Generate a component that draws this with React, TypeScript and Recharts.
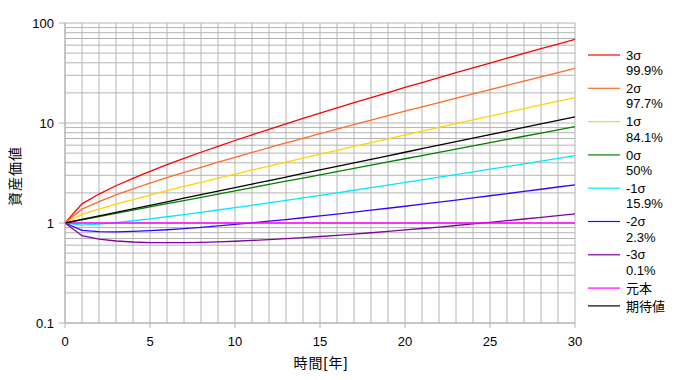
import React from 'react';
import { LineChart, Line, XAxis, YAxis, CartesianGrid, Legend } from 'recharts';

// ---- data ----
const years = [0, 1, 2, 3, 4, 5, 6, 7, 8, 9, 10, 11, 12, 13, 14, 15, 16, 17, 18, 19, 20, 21, 22, 23, 24, 25, 26, 27, 28, 29, 30];

const sigmaP3 = [1, 1.554, 1.948, 2.357, 2.8, 3.288, 3.828, 4.43, 5.1, 5.849, 6.684, 7.617, 8.657, 9.819, 11.11, 12.56, 14.17, 15.96, 17.95, 20.18, 22.65, 25.4, 28.45, 31.84, 35.61, 39.79, 44.43, 49.58, 55.28, 61.61, 68.61];
const sigmaP2 = [1, 1.375, 1.639, 1.907, 2.192, 2.501, 2.837, 3.205, 3.609, 4.053, 4.541, 5.078, 5.668, 6.319, 7.034, 7.821, 8.687, 9.64, 10.69, 11.84, 13.11, 14.5, 16.03, 17.71, 19.56, 21.59, 23.82, 26.26, 28.95, 31.89, 35.12];
const sigmaP1 = [1, 1.217, 1.378, 1.543, 1.717, 1.903, 2.103, 2.32, 2.554, 2.808, 3.085, 3.385, 3.711, 4.066, 4.451, 4.871, 5.327, 5.823, 6.362, 6.949, 7.587, 8.281, 9.035, 9.855, 10.75, 11.72, 12.77, 13.91, 15.16, 16.51, 17.98];
const sigma0 = [1, 1.077, 1.159, 1.249, 1.344, 1.448, 1.559, 1.678, 1.807, 1.946, 2.096, 2.256, 2.43, 2.616, 2.817, 3.034, 3.266, 3.517, 3.787, 4.078, 4.391, 4.729, 5.092, 5.483, 5.904, 6.357, 6.845, 7.371, 7.937, 8.546, 9.202];
const sigmaM1 = [1, 0.953, 0.975, 1.01, 1.053, 1.101, 1.155, 1.215, 1.279, 1.349, 1.424, 1.504, 1.591, 1.684, 1.783, 1.889, 2.003, 2.125, 2.255, 2.393, 2.542, 2.7, 2.869, 3.05, 3.243, 3.449, 3.67, 3.905, 4.156, 4.424, 4.71];
const sigmaM2 = [1, 0.843, 0.821, 0.817, 0.824, 0.838, 0.856, 0.879, 0.905, 0.935, 0.967, 1.003, 1.042, 1.083, 1.128, 1.177, 1.228, 1.283, 1.342, 1.405, 1.471, 1.542, 1.617, 1.697, 1.782, 1.872, 1.967, 2.069, 2.176, 2.29, 2.411];
const sigmaM3 = [1, 0.746, 0.69, 0.661, 0.646, 0.637, 0.635, 0.636, 0.64, 0.648, 0.657, 0.669, 0.682, 0.697, 0.714, 0.733, 0.753, 0.775, 0.799, 0.824, 0.852, 0.881, 0.911, 0.944, 0.979, 1.016, 1.055, 1.096, 1.139, 1.186, 1.234];
const principal = [1, 1, 1, 1, 1, 1, 1, 1, 1, 1, 1, 1, 1, 1, 1, 1, 1, 1, 1, 1, 1, 1, 1, 1, 1, 1, 1, 1, 1, 1, 1];
const expected = [1, 1.085, 1.177, 1.277, 1.385, 1.503, 1.63, 1.769, 1.919, 2.082, 2.258, 2.45, 2.658, 2.883, 3.128, 3.393, 3.681, 3.994, 4.333, 4.7, 5.099, 5.532, 6.003, 6.511, 7.063, 7.663, 8.313, 9.019, 9.784, 10.61, 11.52];

const seriesKeys = ['p3', 'p2', 'p1', 'z0', 'm1', 'm2', 'm3', 'principal', 'expected'];
const seriesValues = [sigmaP3, sigmaP2, sigmaP1, sigma0, sigmaM1, sigmaM2, sigmaM3, principal, expected];
const seriesColors = ['#ff0000', '#ff6a2a', '#ffd400', '#008000', '#00e8ff', '#3a00ff', '#8000a0', '#ff00ff', '#000000'];
const legendMain = ['3σ', '2σ', '1σ', '0σ', '-1σ', '-2σ', '-3σ', '元本', '期待値'];
const legendSub = ['99.9%', '97.7%', '84.1%', '50%', '15.9%', '2.3%', '0.1%', '', ''];

const yGridTicks = [0.1, 0.2, 0.3, 0.4, 0.5, 0.6, 0.7, 0.8, 0.9, 1, 2, 3, 4, 5, 6, 7, 8, 9, 10, 20, 30, 40, 50, 60, 70, 80, 90, 100];
const yLabelTicks = [0.1, 1, 10, 100];
const xLabelTicks = [0, 5, 10, 15, 20, 25, 30];

const xTitle = '時間[年]';
const yTitle = '資産価値';

const data = years.map((t, i) => {
  const row: Record<string, number> = { t };
  seriesKeys.forEach((k, j) => {
    row[k] = seriesValues[j][i];
  });
  return row;
});

const FONT = '"Liberation Sans", Arial, "Noto Sans CJK JP", sans-serif';
const GRID = '#b4b4b4';

const YTick = (props: any) => {
  const { x, y, payload } = props;
  const v = payload.value;
  const isLabel = yLabelTicks.some((l) => Math.abs(l - v) < 1e-9);
  if (!isLabel) return <g />;
  return (
    <g>
      <line x1={x + 5} x2={x + 11} y1={y} y2={y} stroke={GRID} strokeWidth={1} />
      <text x={x} y={y} dy={4.6} textAnchor="end" fontSize={13} fontFamily={FONT} fill="#000">
        {String(v)}
      </text>
    </g>
  );
};

const XTick = (props: any) => {
  const { x, y, payload } = props;
  const v = payload.value;
  if (!xLabelTicks.includes(v)) return <g />;
  return (
    <g>
      <line x1={x} x2={x} y1={y - 11} y2={y - 6} stroke={GRID} strokeWidth={1} />
      <text x={x} y={y + 12} textAnchor="middle" fontSize={13} fontFamily={FONT} fill="#000">
        {String(v)}
      </text>
    </g>
  );
};

const LegendContent = () => {
  const rows: { y: number; i: number }[] = [];
  let y = 15;
  legendMain.forEach((_, i) => {
    rows.push({ y, i });
    y += (legendSub[i] ? 2 : 1) * 15.5 + 2.3;
  });
  return (
    <svg width={100} height={290} style={{ display: 'block' }}>
      {rows.map(({ y: ry, i }) => (
        <g key={i}>
          <line x1={8} x2={40} y1={ry} y2={ry} stroke={seriesColors[i]} strokeWidth={1.2} />
          <text x={46} y={ry} dy={4.6} fontSize={13} fontFamily={FONT} fill="#000">
            {legendMain[i]}
          </text>
          {legendSub[i] ? (
            <text x={46} y={ry + 15.5} dy={4.6} fontSize={13} fontFamily={FONT} fill="#000">
              {legendSub[i]}
            </text>
          ) : null}
        </g>
      ))}
    </svg>
  );
};

export default function App() {
  return (
    <div style={{ position: 'absolute', left: 0, top: 0, width: 680, height: 380, background: '#fff' }}>
      <LineChart width={680} height={380} data={data} margin={{ top: 23, right: 105, left: 0, bottom: 0 }}>
        <CartesianGrid stroke={GRID} strokeWidth={1} />
        <XAxis
          dataKey="t"
          type="number"
          domain={[0, 30]}
          ticks={years}
          interval={0}
          height={57}
          tickSize={5}
          tickMargin={6}
          tickLine={false}
          axisLine={{ stroke: GRID }}
          tick={<XTick />}
          label={{
            content: (p: any) => {
              const vb = p.viewBox || { x: 65, y: 323, width: 510 };
              return (
                <text x={vb.x + vb.width / 2 + 1} y={vb.y + 45} textAnchor="middle" fontSize={14} letterSpacing={1} fontFamily={FONT} fill="#000">
                  {xTitle}
                </text>
              );
            },
          }}
        />
        <YAxis
          type="number"
          scale="log"
          domain={[0.1, 100]}
          allowDataOverflow
          ticks={yGridTicks}
          interval={0}
          width={65}
          tickSize={6}
          tickMargin={5}
          tickLine={false}
          axisLine={{ stroke: GRID }}
          tick={<YTick />}
          label={{
            content: (p: any) => {
              const vb = p.viewBox || { x: 0, y: 23, height: 300 };
              const cx = 15;
              const cy = vb.y + vb.height / 2 + 3;
              return (
                <text
                  x={cx}
                  y={cy}
                  textAnchor="middle"
                  dominantBaseline="central"
                  fontSize={14}
                  letterSpacing={1}
                  fontFamily={FONT}
                  fill="#000"
                  transform={`rotate(-90, ${cx}, ${cy})`}
                >
                  {yTitle}
                </text>
              );
            },
          }}
        />
        <Legend
          layout="vertical"
          align="center"
          verticalAlign="middle"
          content={<LegendContent />}
          wrapperStyle={{ left: 580, top: 40, width: 100, height: 290 }}
        />
        {seriesKeys.map((k, i) => (
          <Line
            key={k}
            type="linear"
            dataKey={k}
            name={legendMain[i]}
            stroke={seriesColors[i]}
            strokeWidth={1.3}
            dot={false}
            activeDot={false}
            isAnimationActive={false}
          />
        ))}
      </LineChart>
    </div>
  );
}
